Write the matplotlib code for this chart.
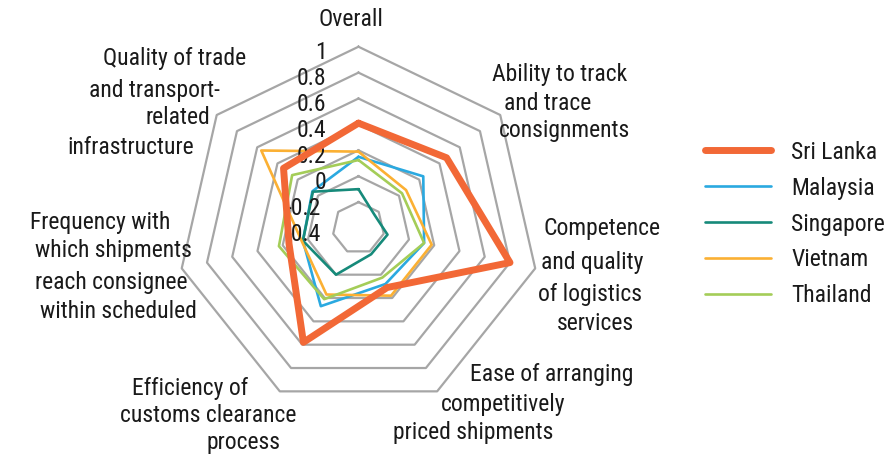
import numpy as np
import matplotlib
matplotlib.use("Agg")
import matplotlib.pyplot as plt
import matplotlib.transforms as mtransforms

# ---------------- data ----------------
categories = [
    "Overall",
    "Ability to track and trace consignments",
    "Competence and quality of logistics services",
    "Ease of arranging competitively priced shipments",
    "Efficiency of customs clearance process",
    "Frequency with which shipments reach consignee within scheduled",
    "Quality of trade and transport-related infrastructure",
]
category_lines = [
    ["Overall"],
    ["Ability to track", "and trace", "consignments"],
    ["Competence", "and quality", "of logistics", "services"],
    ["Ease of arranging", "competitively", "priced shipments"],
    ["Efficiency of", "customs clearance", "process"],
    ["Frequency with", "which shipments", "reach consignee", "within scheduled"],
    ["Quality of trade", "and transport-", "related", "infrastructure"],
]
series_names = ["Sri Lanka", "Malaysia", "Singapore", "Vietnam", "Thailand"]
sri_lanka = [0.41, 0.47, 0.80, 0.11, 0.58, 0.15, 0.34]
malaysia = [0.15, 0.24, 0.12, 0.08, 0.27, 0.04, 0.055]
singapore = [-0.10, -0.24, -0.17, -0.175, 0.0, 0.04, 0.05]
vietnam = [0.19, 0.07, 0.18, 0.18, 0.17, 0.05, 0.56]
thailand = [0.125, 0.03, 0.12, 0.025, 0.21, 0.23, 0.255]
tick_values = [-0.4, -0.2, 0.0, 0.2, 0.4, 0.6, 0.8, 1.0]
tick_labels = ["-0.4", "-0.2", "0", "0.2", "0.4", "0.6", "0.8", "1"]

# ---------------- style ----------------
colors = ["#F26836", "#2AA9E0", "#168A7A", "#FBB033", "#A4CD58"]
widths = [5.0, 1.9, 1.9, 1.9, 1.9]
grid_color = "#A6A6A6"

FONT = ["Roboto Condensed", "DejaVu Sans"]
FS = 17
TXT = "#1a1a1a"
plt.rcParams["font.family"] = FONT

W, H = 885, 458
fig = plt.figure(figsize=(W / 100, H / 100), dpi=100)
ax = fig.add_axes([0.2002, 0.1063, 0.4097, 0.7917], projection="polar")
ax.set_theta_zero_location("N")
ax.set_theta_direction(-1)
ax.set_ylim(-0.4, 1.0)
ax.set_axis_off()

n = len(categories)
theta = [2 * np.pi * k / n for k in range(n)]
theta_c = theta + [theta[0]]

for v in tick_values[1:]:
    ax.plot(theta_c, [v] * (n + 1), color=grid_color, lw=1.6, zorder=1, clip_on=False)

all_series = [sri_lanka, malaysia, singapore, vietnam, thailand]
handles = []
for name, vals, c, w in zip(series_names, all_series, colors, widths):
    (h,) = ax.plot(theta_c, list(vals) + [vals[0]], color=c, lw=w, zorder=3,
                   solid_joinstyle="round", solid_capstyle="round", clip_on=False, label=name)
    handles.append(h)
handles[0].set_zorder(4)

# tick labels left of the vertical axis
for v, lab in zip(tick_values, tick_labels):
    dx = -32 if not lab.startswith("-") else -38
    off = mtransforms.ScaledTranslation(dx / 100, -6 / 100, fig.dpi_scale_trans)
    ax.text(0, v, lab, transform=ax.transData + off, ha="right", va="center",
            fontsize=FS, color=TXT, family=FONT)

# category labels (per-line centres, pixel positions)
label_pos = [
    [(351, 20)],
    [(560, 75), (548, 103), (564, 130)],
    [(602, 228), (592, 263), (590, 295), (595, 323)],
    [(552, 375), (503, 405), (473, 432)],
    [(190, 388), (208, 416), (243, 443)],
    [(100, 222), (113, 251), (111, 282), (118, 311)],
    [(175, 58), (154, 90), (178, 118), (131, 148)],
]
for lines, poss in zip(category_lines, label_pos):
    for t, (x, y) in zip(lines, poss):
        fig.text(x / W, 1 - y / H, t, ha="center", va="center", fontsize=FS,
                 color=TXT, family=FONT)

leg = fig.legend(handles=handles, labels=series_names, loc="center left",
                 bbox_to_anchor=(705 / W, 1 - 224 / H), bbox_transform=fig.transFigure,
                 frameon=False, fontsize=FS, handlelength=2.8, handletextpad=0.85,
                 labelspacing=0.55, borderpad=0, borderaxespad=0)
for t in leg.get_texts():
    t.set_color(TXT)

fig.savefig("out.png", dpi=100)
